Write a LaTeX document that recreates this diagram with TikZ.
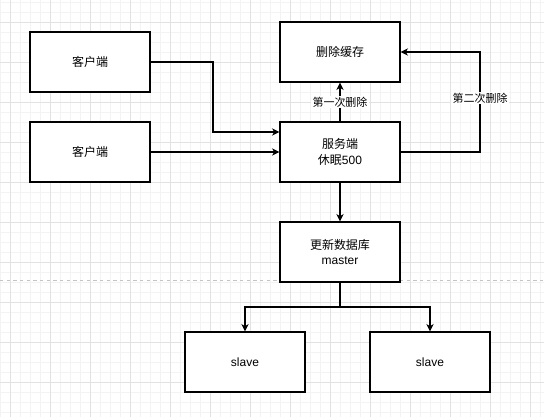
\documentclass[tikz,border=0pt]{standalone}
\usepackage{fontspec}
\setmainfont{Liberation Sans}
\newfontfamily\cjk{Noto Sans CJK SC}
\usetikzlibrary{arrows.meta}
\definecolor{gridminor}{HTML}{F3F3F3}
\definecolor{gridmajor}{HTML}{E2E2E2}
\definecolor{dashgray}{HTML}{C4C4C4}
\begin{document}
\begin{tikzpicture}[x=0.75pt,y=-0.75pt,
  box/.style={draw=black,line width=0.9pt,fill=white,minimum width=90pt,minimum height=45pt,inner sep=0pt,align=center,font=\fontsize{9}{11.5}\selectfont},
  conn/.style={draw=black,line width=0.9pt,-{Stealth[length=5.5pt,width=5.5pt,inset=1.6pt]}},
  lbl/.style={fill=white,inner sep=1pt,font=\fontsize{8.25}{10}\selectfont\cjk}]
\useasboundingbox (0,0) rectangle (544,417);
\fill[white] (0,0) rectangle (544,417);
% grid
\foreach \i in {0,...,54} {\draw[gridminor,line width=0.6pt] (\i*10,0) -- (\i*10,417);}
\foreach \i in {0,...,41} {\draw[gridminor,line width=0.6pt] (0,\i*10+2) -- (544,\i*10+2);}
\foreach \i in {0,...,13} {\draw[gridmajor,line width=0.6pt] (\i*40+10,0) -- (\i*40+10,417);}
\foreach \i in {0,...,9} {\draw[gridmajor,line width=0.6pt] (0,\i*40+22) -- (544,\i*40+22);}
% dashed separator
\draw[dashgray,line width=0.75pt,dash pattern=on 2.5pt off 2.5pt] (0,281) -- (544,281);
% nodes
\node[box] (c1) at (90,62) {\cjk 客户端};
\node[box] (c2) at (90,152) {\cjk 客户端};
\node[box] (del) at (340,52) {\cjk 删除缓存};
\node[box] (srv) at (340,152) {{\cjk 服务端}\\{\cjk 休眠}500};
\node[box] (db) at (340,252) {{\cjk 更新数据库}\\master};
\node[box] (s1) at (245,362) {slave};
\node[box] (s2) at (430,362) {slave};
% connectors
\coordinate (j1) at (213,132);
\draw[conn] (c1.east) -| (j1) -- (j1 -| srv.west);
\draw[conn] (c2.east) -- (srv.west);
\draw[conn] (srv.north) -- node[lbl]{第一次删除} (del.south);
\coordinate (r1) at (480,152);
\draw[conn] (srv.east) -- (r1) |- node[lbl,pos=0.27]{第二次删除} (del.east);
\draw[conn] (srv.south) -- (db.north);
\coordinate (sp) at (340,307);
\draw[conn] (db.south) -- (sp) -| (s1.north);
\draw[conn] (sp) -| (s2.north);
\end{tikzpicture}
\end{document}
